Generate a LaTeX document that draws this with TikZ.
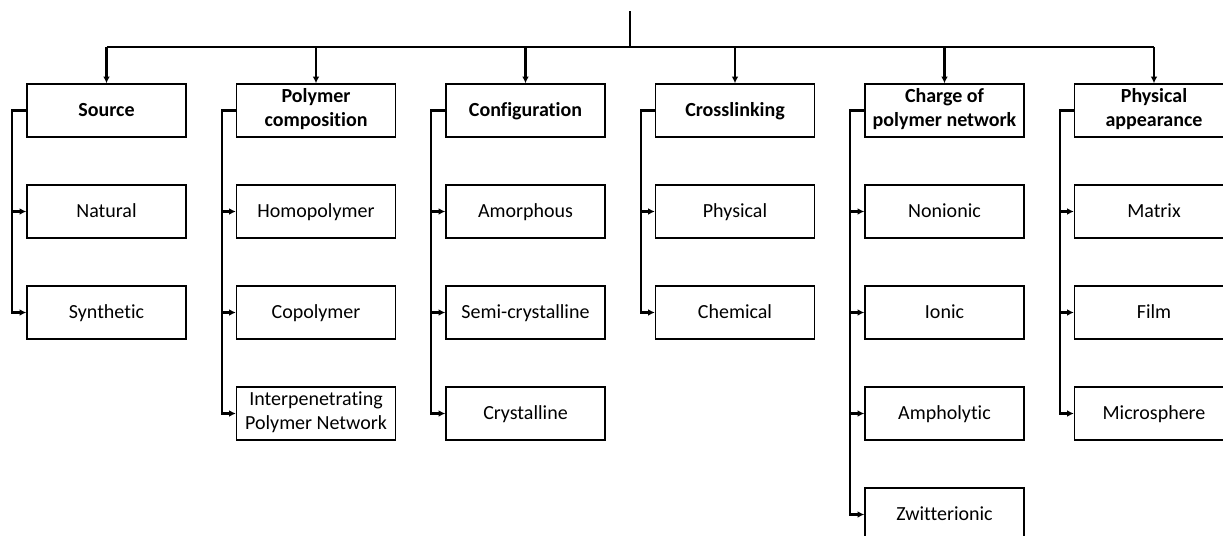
\documentclass[tikz,border=0pt]{standalone}
\usepackage{fontspec}
\setmainfont{Carlito}[Ligatures=NoCommon]
\usetikzlibrary{arrows.meta}

\newcommand\boxstrut{\rule[-2.8pt]{0pt}{12pt}}
\tikzset{
  catbox/.style={draw, line width=0.7pt, minimum width=79.5pt, minimum height=26.5pt,
    inner sep=1pt, align=center, font=\fontsize{10}{12}\selectfont\bfseries,
    execute at begin node=\boxstrut, execute at end node=\boxstrut},
  itembox/.style={catbox, font=\fontsize{10}{12}\selectfont},
  link/.style={line width=1.1pt},
  tip/.style={-{Latex[length=3.4pt,width=3.4pt]}}
}

\begin{document}
\begin{tikzpicture}[x=0.5pt, y=-0.5pt]
  \useasboundingbox (0,0) rectangle (1223,536);
  \def\pitch{209.5} \def\rowgap{101}
  \coordinate (root) at (630,11);
  \coordinate (bar) at (630,47.3);
  % headers and their items
  \foreach \c/\head/\kids [count=\i from 0] in {
      src/Source/{Natural,Synthetic},
      comp/{Polymer\\composition}/{Homopolymer,Copolymer,{Interpenetrating\\Polymer Network}},
      conf/Configuration/{Amorphous,Semi-crystalline,Crystalline},
      cross/Crosslinking/{Physical,Chemical},
      charge/{Charge of\\polymer network}/{Nonionic,Ionic,Ampholytic,Zwitterionic},
      phys/{Physical\\appearance}/{Matrix,Film,Microsphere}} {
    \node[catbox] (\c-h) at (106.5+\pitch*\i,110.5) {\head};
    \foreach \kid [count=\j] in \kids {
      \node[itembox] (\c-\j) at (106.5+\pitch*\i,110.5+\rowgap*\j) {\kid};
      \draw[link, tip] (\c-h.west) -- ++(-14,0) |- (\c-\j.west);
    }
    \draw[link, tip] (\c-h.north |- bar) -- (\c-h.north);
  }
  % main stem and bar
  \draw[link] (root) -- (bar);
  \draw[link] (src-h.north |- bar) -- (phys-h.north |- bar);
\end{tikzpicture}
\end{document}
